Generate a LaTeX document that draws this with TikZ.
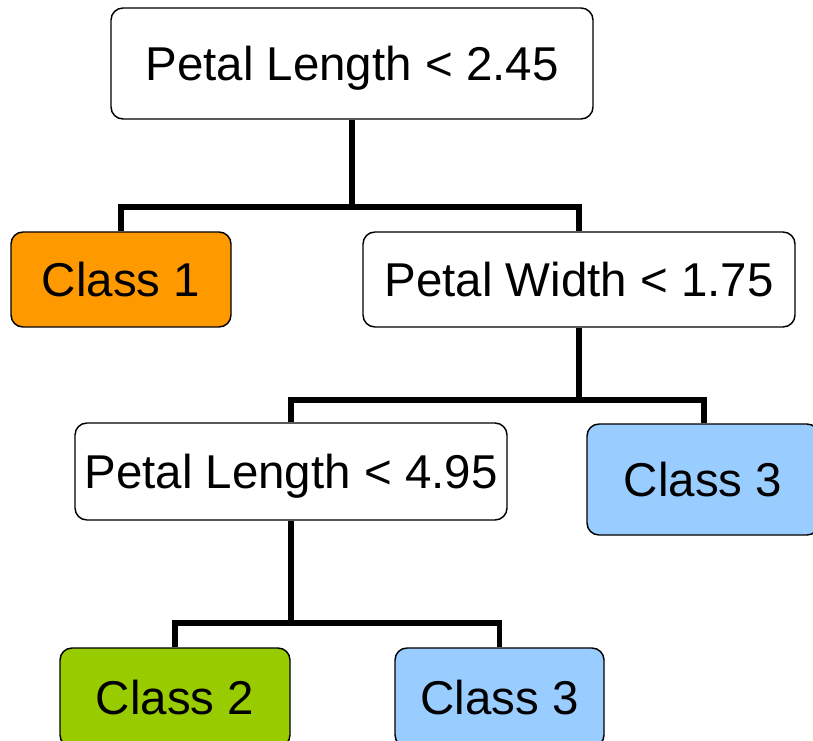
\documentclass[tikz,border=0pt]{standalone}
\usepackage{fontspec}
\setmainfont{Liberation Sans}
\definecolor{orangeC}{HTML}{FF9900}
\definecolor{greenC}{HTML}{99CC00}
\definecolor{blueC}{HTML}{99CCFF}
\begin{document}
\begin{tikzpicture}[x=0.75pt,y=-0.75pt,
  box/.style={draw=black, line width=1.1pt, rounded corners=9pt, inner sep=0pt,
    text height=25.5pt, text depth=0pt, font=\fontsize{35.6}{40}\selectfont, fill=white},
  conn/.style={draw=black, line width=3.8pt}]
\useasboundingbox (0,0) rectangle (813,741);
\clip (0,0) rectangle (813,741);
\node[box, minimum width=361.5pt, minimum height=83.25pt] (n1) at (352,63.5) {Petal Length < 2.45};
\node[box, fill=orangeC, minimum width=165pt, minimum height=71.25pt] (c1) at (121,279.5) {Class 1};
\node[box, minimum width=324pt, minimum height=71.25pt] (n2) at (579,279.5) {Petal Width < 1.75};
\node[box, minimum width=324pt, minimum height=72.75pt] (n3) at (291,471.5) {Petal Length < 4.95};
\node[box, fill=blueC, minimum width=174pt, minimum height=83.25pt] (c3r) at (703,479.5) {Class 3};
\node[box, fill=greenC, minimum width=172.5pt, minimum height=74.25pt] (c2) at (175,697.5) {Class 2};
\node[box, fill=blueC, minimum width=156.75pt, minimum height=74.25pt] (c3b) at (499.5,697.5) {Class 3};
\coordinate (j1) at (352,207);
\coordinate (j2) at (579,400);
\coordinate (j3) at (291,623);
\draw[conn] (n1.south) -- (j1);
\draw[conn] (c1.north) |- (j1) -| (n2.north);
\draw[conn] (n2.south) -- (j2);
\draw[conn] (n3.north) |- (j2) -| ([xshift=0.75pt]c3r.north);
\draw[conn] (n3.south) -- (j3);
\draw[conn] (c2.north) |- (j3) -| (c3b.north);
\end{tikzpicture}
\end{document}
